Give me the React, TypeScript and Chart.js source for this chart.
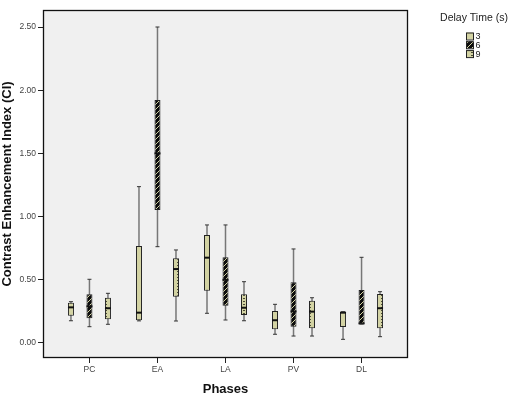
import React, { useEffect, useRef } from 'react';
import { Chart, registerables } from 'chart.js';

Chart.register(...registerables);

const phases = ['PC', 'EA', 'LA', 'PV', 'DL'];
const delayLabels = ['3', '6', '9'];
const yTickValues = [0, 0.5, 1, 1.5, 2, 2.5];

// Delay 3 s
const min3 = [0.176, 0.175, 0.235, 0.069, 0.029];
const q1_3 = [0.216, 0.18, 0.414, 0.108, 0.127];
const med3 = [0.282, 0.24, 0.675, 0.18, 0.24];
const q3_3 = [0.319, 0.767, 0.854, 0.253, 0.245];
const max3 = [0.327, 1.237, 0.934, 0.306, 0.248];

// Delay 6 s
const min6 = [0.129, 0.762, 0.182, 0.055, 0.15];
const q1_6 = [0.195, 1.052, 0.295, 0.129, 0.15];
const med6 = [0.29, 1.5, 0.5, 0.25, 0.155];
const q3_6 = [0.385, 1.922, 0.678, 0.48, 0.419];
const max6 = [0.504, 2.5, 0.934, 0.744, 0.678];

// Delay 9 s
const min9 = [0.148, 0.174, 0.176, 0.055, 0.05];
const q1_9 = [0.188, 0.366, 0.222, 0.116, 0.116];
const med9 = [0.275, 0.585, 0.279, 0.248, 0.275];
const q3_9 = [0.358, 0.67, 0.385, 0.335, 0.388];
const max9 = [0.393, 0.736, 0.485, 0.358, 0.406];

const FONT = "Arial, 'Liberation Sans', sans-serif";
const KHAKI = '#d3d3a3';

function makeTile(w: number, h: number, draw: (c: CanvasRenderingContext2D) => void): CanvasPattern | string {
  const c = document.createElement('canvas');
  c.width = w;
  c.height = h;
  const cx = c.getContext('2d');
  if (!cx) return KHAKI;
  draw(cx);
  const ref = document.createElement('canvas').getContext('2d');
  return (ref && ref.createPattern(c, 'repeat')) || KHAKI;
}

export default function App() {
  const canvasRef = useRef<HTMLCanvasElement>(null);

  useEffect(() => {
    const canvas = canvasRef.current;
    if (!canvas) return;

    const hatch = makeTile(5, 5, (c) => {
      c.fillStyle = '#0c0c0c';
      c.fillRect(0, 0, 5, 5);
      c.strokeStyle = KHAKI;
      c.lineWidth = 1;
      c.beginPath();
      c.moveTo(-1, 1); c.lineTo(1, -1);
      c.moveTo(0, 5); c.lineTo(5, 0);
      c.moveTo(4, 6); c.lineTo(6, 4);
      c.stroke();
    });
    const dashes = makeTile(6, 3, (c) => {
      c.fillStyle = KHAKI;
      c.fillRect(0, 0, 6, 3);
      c.fillStyle = '#4a4a35';
      c.fillRect(3, 1, 2, 1);
    });
    const fills: (string | CanvasPattern)[] = [KHAKI, hatch, dashes];

    const series = [
      { min: min3, q1: q1_3, med: med3, q3: q3_3, max: max3 },
      { min: min6, q1: q1_6, med: med6, q3: q3_6, max: max6 },
      { min: min9, q1: q1_9, med: med9, q3: q3_9, max: max9 },
    ];
    const offsets = [-0.272, 0, 0.272];

    const datasets: any[] = [];
    series.forEach((s, k) => {
      const xs = phases.map((_, i) => i + offsets[k]);
      datasets.push({
        type: 'bar',
        label: 'whisker ' + delayLabels[k],
        data: xs.map((x, i) => ({ x, y: [s.min[i], s.max[i]] })),
        backgroundColor: '#777777',
        borderWidth: 0,
        grouped: false,
        maxBarThickness: 1.5,
        order: 3,
      });
      datasets.push({
        type: 'bar',
        label: delayLabels[k],
        data: xs.map((x, i) => ({ x, y: [s.q1[i], s.q3[i]] })),
        backgroundColor: fills[k],
        borderColor: '#222',
        borderWidth: 1,
        borderSkipped: false,
        grouped: false,
        maxBarThickness: 6,
        order: 2,
      });
      datasets.push({
        type: 'scatter',
        label: 'caps ' + delayLabels[k],
        data: xs.flatMap((x, i) => [{ x, y: s.min[i] }, { x, y: s.max[i] }]),
        pointStyle: 'line',
        pointRadius: 2,
        pointBorderWidth: 1,
        pointBorderColor: '#333',
        order: 1,
      });
      datasets.push({
        type: 'scatter',
        label: 'median ' + delayLabels[k],
        data: xs.map((x, i) => ({ x, y: s.med[i] })),
        pointStyle: 'line',
        pointRadius: 3,
        pointBorderWidth: 2,
        pointBorderColor: '#111',
        order: 1,
      });
    });

    const bgPlugin = {
      id: 'plotBg',
      beforeDraw(chart: any) {
        const { ctx, chartArea: a } = chart;
        ctx.save();
        ctx.fillStyle = '#f0f0f0';
        ctx.fillRect(a.left, a.top, a.right - a.left, a.bottom - a.top);
        ctx.restore();
      },
      afterDatasetsDraw(chart: any) {
        const { ctx, chartArea: a } = chart;
        ctx.save();
        ctx.strokeStyle = '#111';
        ctx.lineWidth = 1.3;
        ctx.strokeRect(Math.round(a.left) + 0.5, Math.round(a.top) + 0.5, Math.round(a.right - a.left) - 1, Math.round(a.bottom - a.top) - 1);
        ctx.restore();
      },
    };

    const legendPlugin = {
      id: 'delayLegend',
      afterDraw(chart: any) {
        const { ctx } = chart;
        ctx.save();
        ctx.fillStyle = '#222';
        ctx.font = `10.5px ${FONT}`;
        ctx.textAlign = 'center';
        ctx.textBaseline = 'middle';
        ctx.fillText('Delay Time (s)', 474, 18);
        ctx.textAlign = 'left';
        ctx.font = `9px ${FONT}`;
        delayLabels.forEach((lab, k) => {
          const y = 32.5 + k * 8.8;
          ctx.fillStyle = fills[k];
          ctx.fillRect(466, y, 7, 7);
          ctx.strokeStyle = '#222';
          ctx.lineWidth = 1;
          ctx.strokeRect(466.5, y + 0.5, 7, 7);
          ctx.fillStyle = '#222';
          ctx.fillText(lab, 475.5, y + 4);
        });
        ctx.restore();
      },
    };

    const chart = new Chart(canvas, {
      type: 'bar',
      data: { datasets },
      options: {
        animation: false,
        responsive: false,
        events: [],
        layout: { padding: { top: 10, right: 105, bottom: 0, left: 0 } },
        plugins: { legend: { display: false }, tooltip: { enabled: false } },
        scales: {
          x: {
            type: 'linear',
            min: -0.683,
            max: 4.683,
            offset: false,
            afterBuildTicks: (axis: any) => {
              axis.ticks = phases.map((_, i) => ({ value: i }));
            },
            afterFit: (s: any) => {
              s.height = 44;
            },
            grid: { display: true, drawOnChartArea: false, drawTicks: true, tickLength: 5, color: '#222', offset: false },
            border: { display: false },
            ticks: {
              autoSkip: false,
              maxRotation: 0,
              padding: 2,
              color: '#444',
              font: { family: FONT, size: 8.5 },
              callback: (v: any) => phases[Math.round(Number(v))] ?? '',
            },
            title: {
              display: true,
              text: 'Phases',
              color: '#111',
              font: { family: FONT, size: 13, weight: 'bold' },
              padding: { top: 0, bottom: 5 },
            },
          },
          y: {
            type: 'linear',
            min: -0.1187,
            max: 2.6345,
            afterBuildTicks: (axis: any) => {
              axis.ticks = yTickValues.map((v) => ({ value: v }));
            },
            afterFit: (s: any) => {
              s.width = 43;
            },
            grid: { display: true, drawOnChartArea: false, drawTicks: true, tickLength: 5, color: '#222' },
            border: { display: false },
            ticks: {
              padding: 2,
              color: '#444',
              font: { family: FONT, size: 8.5 },
              callback: (v: any) => Number(v).toFixed(2),
            },
            title: {
              display: true,
              text: 'Contrast Enhancement Index (CI)',
              color: '#111',
              font: { family: FONT, size: 13, weight: 'bold' },
              padding: { top: 0, bottom: 0 },
            },
          },
        },
      } as any,
      plugins: [bgPlugin, legendPlugin],
    });

    return () => chart.destroy();
  }, []);

  return (
    <div style={{ position: 'absolute', left: 0, top: 0, width: 513, height: 402, background: '#fff' }}>
      <canvas ref={canvasRef} width={513} height={402} style={{ display: 'block' }} />
    </div>
  );
}
